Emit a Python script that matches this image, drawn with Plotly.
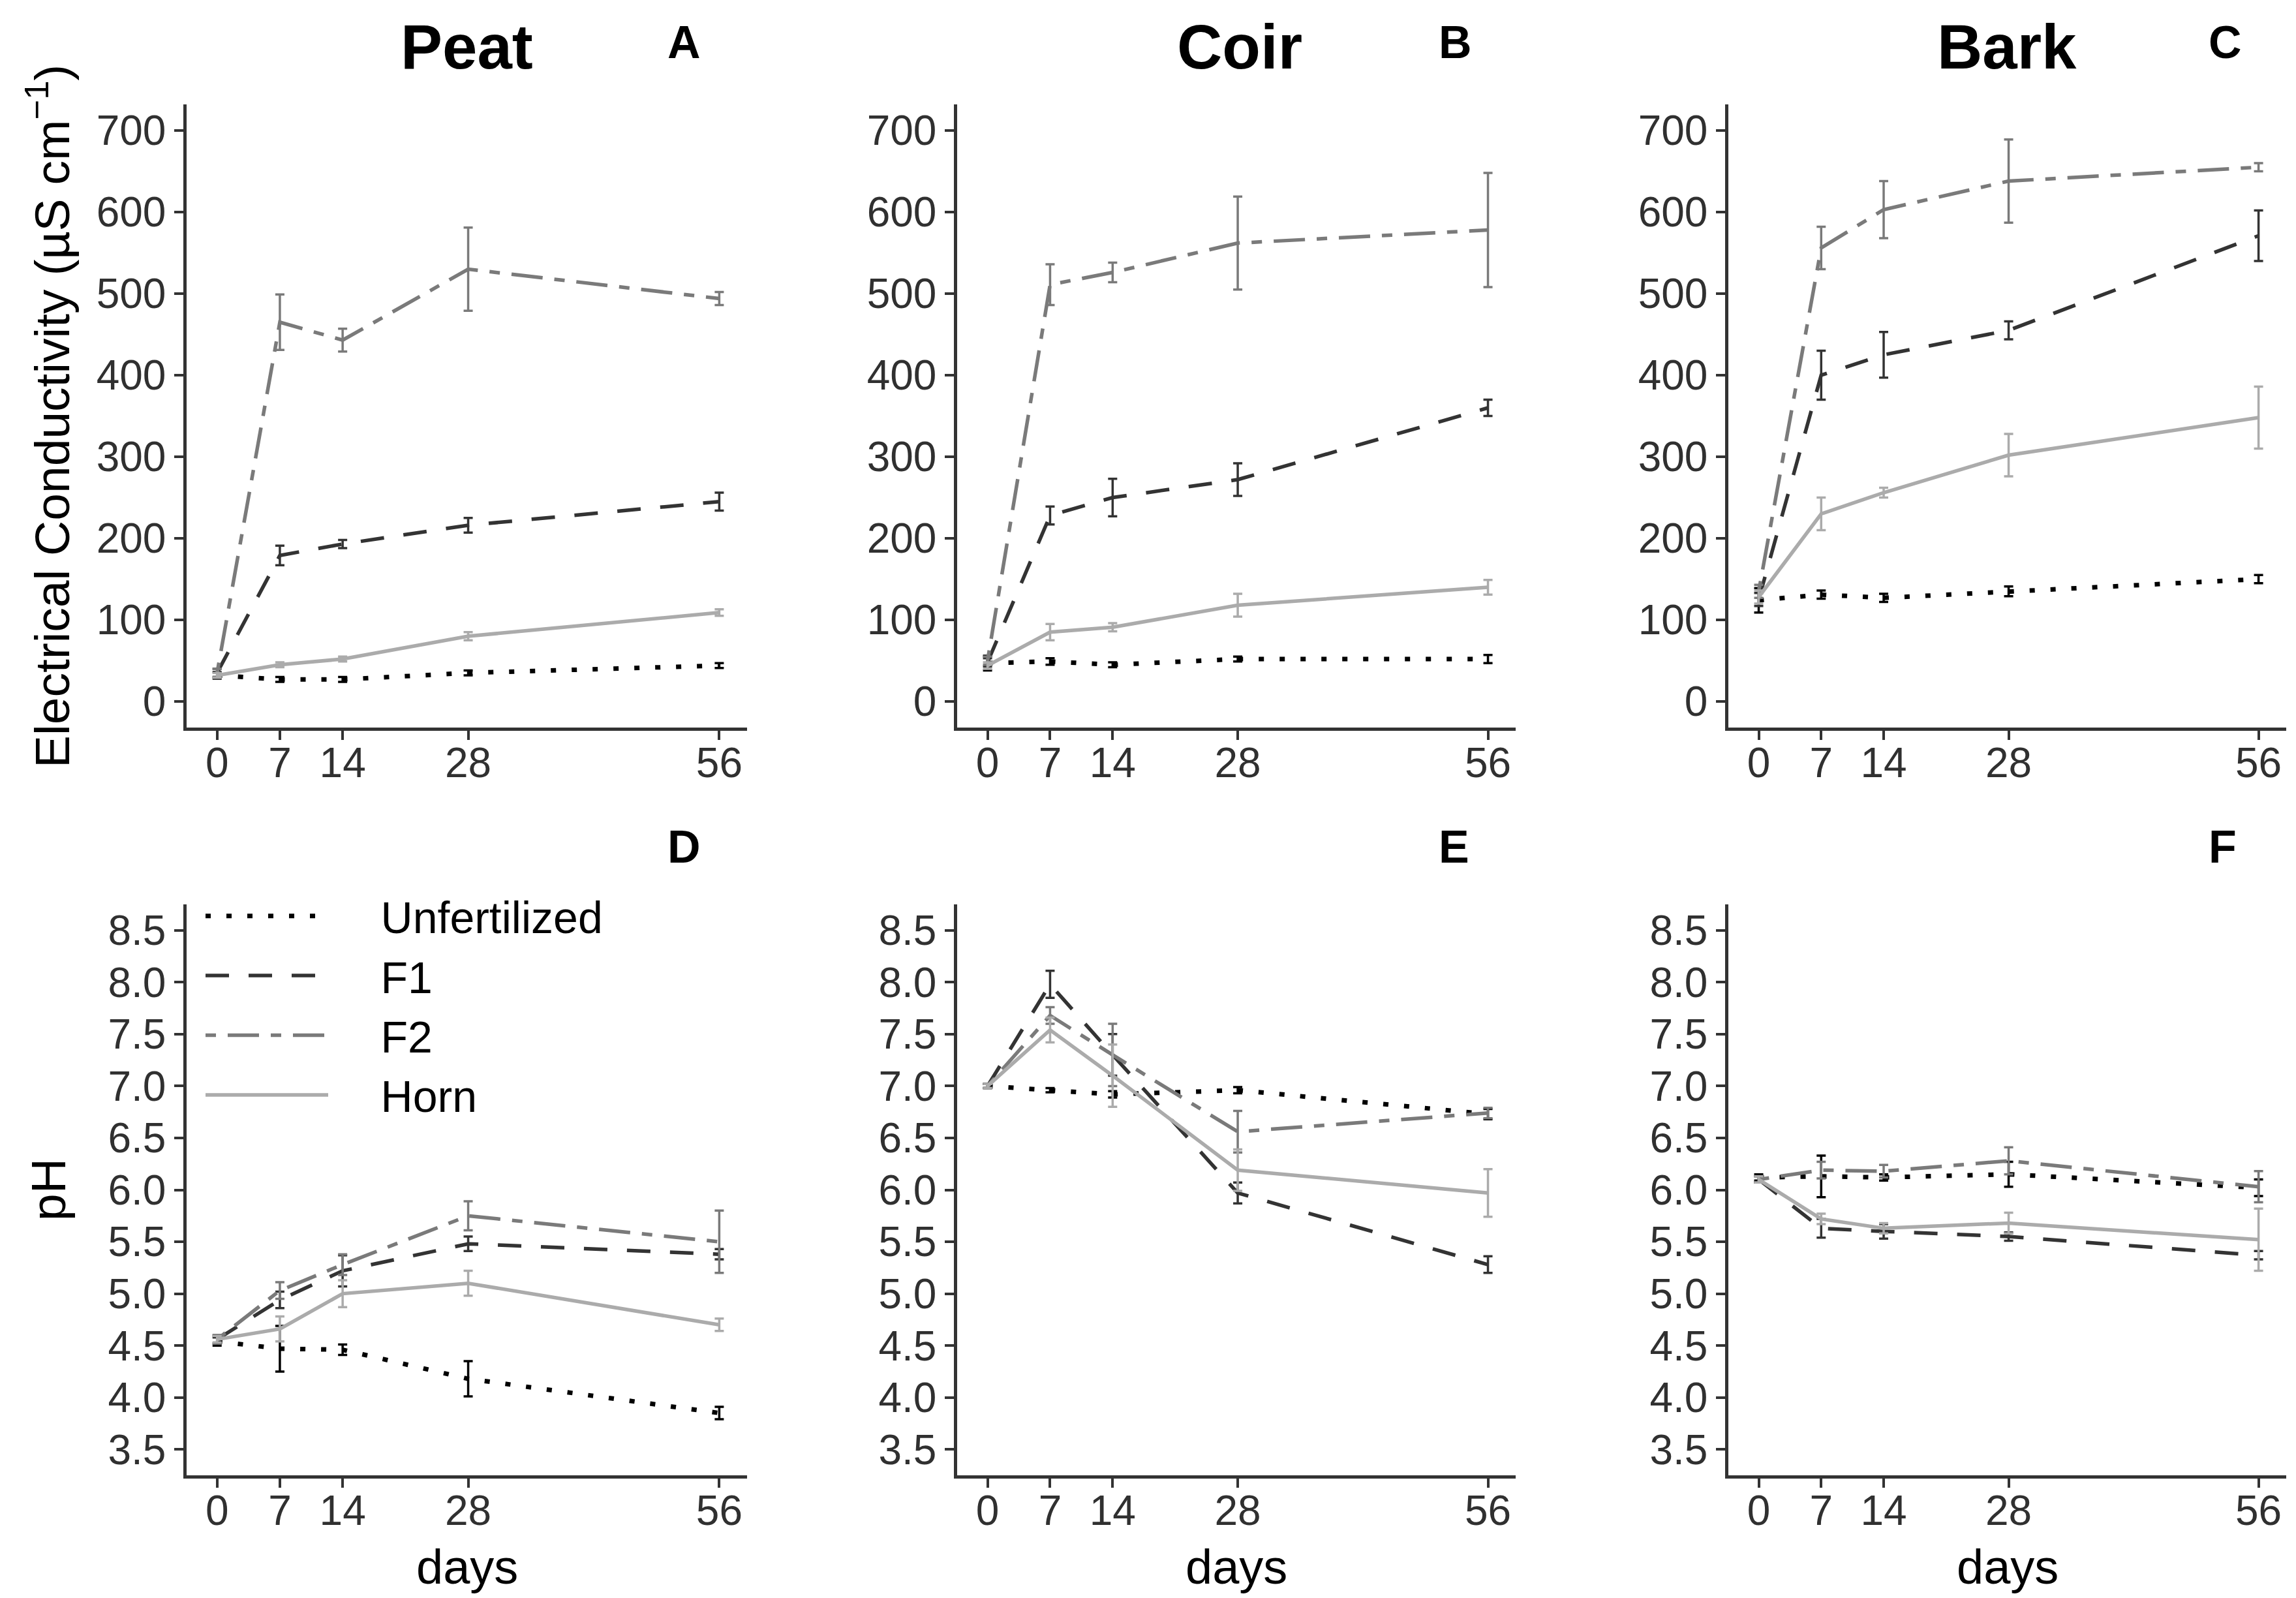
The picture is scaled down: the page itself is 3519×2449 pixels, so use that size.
import plotly.graph_objects as go

W, H = 3519, 2449

days = [0, 7, 14, 28, 56]
day_labels = ["0", "7", "14", "28", "56"]
treatments = ["Unfertilized", "F1", "F2", "Horn"]
substrates = ["Peat", "Coir", "Bark"]
ec_ticks = [0, 100, 200, 300, 400, 500, 600, 700]
ph_ticks = [3.5, 4.0, 4.5, 5.0, 5.5, 6.0, 6.5, 7.0, 7.5, 8.0, 8.5]

# Electrical conductivity (uS cm-1): mean and error
ec_peat_unf = [32, 27, 27, 35, 44]
ec_peat_unf_err = [4, 3, 3, 3, 3]
ec_peat_f1 = [35, 179, 193, 216, 245]
ec_peat_f1_err = [5, 12, 5, 9, 11]
ec_peat_f2 = [35, 465, 443, 530, 494]
ec_peat_f2_err = [5, 34, 14, 51, 8]
ec_peat_horn = [32, 45, 52, 80, 109]
ec_peat_horn_err = [3, 3, 3, 5, 4]

ec_coir_unf = [47, 49, 45, 52, 52]
ec_coir_unf_err = [9, 4, 3, 3, 5]
ec_coir_f1 = [48, 228, 250, 272, 360]
ec_coir_f1_err = [5, 11, 23, 20, 10]
ec_coir_f2 = [50, 511, 526, 562, 578]
ec_coir_f2_err = [5, 25, 12, 57, 70]
ec_coir_horn = [44, 85, 91, 118, 140]
ec_coir_horn_err = [4, 10, 5, 14, 9]

ec_bark_unf = [124, 131, 127, 135, 150]
ec_bark_unf_err = [15, 5, 5, 6, 5]
ec_bark_f1 = [125, 400, 425, 455, 571]
ec_bark_f1_err = [8, 30, 28, 11, 31]
ec_bark_f2 = [135, 556, 603, 638, 655]
ec_bark_f2_err = [8, 26, 35, 51, 5]
ec_bark_horn = [128, 230, 256, 302, 348]
ec_bark_horn_err = [8, 20, 6, 26, 38]

# pH: mean and error
ph_peat_unf = [4.54, 4.47, 4.46, 4.18, 3.85]
ph_peat_unf_err = [0.04, 0.22, 0.05, 0.17, 0.06]
ph_peat_f1 = [4.56, 4.94, 5.22, 5.48, 5.38]
ph_peat_f1_err = [0.04, 0.08, 0.15, 0.07, 0.05]
ph_peat_f2 = [4.56, 5.03, 5.28, 5.75, 5.5]
ph_peat_f2_err = [0.04, 0.08, 0.1, 0.14, 0.3]
ph_peat_horn = [4.56, 4.66, 5.0, 5.1, 4.7]
ph_peat_horn_err = [0.03, 0.12, 0.13, 0.12, 0.06]

ph_coir_unf = [7.0, 6.96, 6.92, 6.96, 6.73]
ph_coir_unf_err = [0.02, 0.02, 0.03, 0.03, 0.05]
ph_coir_f1 = [7.0, 7.98, 7.3, 5.97, 5.28]
ph_coir_f1_err = [0.02, 0.13, 0.2, 0.1, 0.08]
ph_coir_f2 = [7.0, 7.68, 7.3, 6.56, 6.74]
ph_coir_f2_err = [0.02, 0.08, 0.3, 0.2, 0.05]
ph_coir_horn = [7.0, 7.54, 7.1, 6.19, 5.97]
ph_coir_horn_err = [0.02, 0.12, 0.3, 0.2, 0.23]

ph_bark_unf = [6.12, 6.13, 6.12, 6.15, 6.02]
ph_bark_unf_err = [0.03, 0.2, 0.03, 0.12, 0.08]
ph_bark_f1 = [6.1, 5.63, 5.6, 5.55, 5.37]
ph_bark_f1_err = [0.03, 0.09, 0.07, 0.04, 0.04]
ph_bark_f2 = [6.1, 6.19, 6.18, 6.28, 6.03]
ph_bark_f2_err = [0.03, 0.08, 0.06, 0.13, 0.15]
ph_bark_horn = [6.1, 5.72, 5.63, 5.68, 5.52]
ph_bark_horn_err = [0.03, 0.05, 0.05, 0.1, 0.3]

ec_data = {
    "Peat": [(ec_peat_unf, ec_peat_unf_err), (ec_peat_f1, ec_peat_f1_err),
             (ec_peat_f2, ec_peat_f2_err), (ec_peat_horn, ec_peat_horn_err)],
    "Coir": [(ec_coir_unf, ec_coir_unf_err), (ec_coir_f1, ec_coir_f1_err),
             (ec_coir_f2, ec_coir_f2_err), (ec_coir_horn, ec_coir_horn_err)],
    "Bark": [(ec_bark_unf, ec_bark_unf_err), (ec_bark_f1, ec_bark_f1_err),
             (ec_bark_f2, ec_bark_f2_err), (ec_bark_horn, ec_bark_horn_err)],
}
ph_data = {
    "Peat": [(ph_peat_unf, ph_peat_unf_err), (ph_peat_f1, ph_peat_f1_err),
             (ph_peat_f2, ph_peat_f2_err), (ph_peat_horn, ph_peat_horn_err)],
    "Coir": [(ph_coir_unf, ph_coir_unf_err), (ph_coir_f1, ph_coir_f1_err),
             (ph_coir_f2, ph_coir_f2_err), (ph_coir_horn, ph_coir_horn_err)],
    "Bark": [(ph_bark_unf, ph_bark_unf_err), (ph_bark_f1, ph_bark_f1_err),
             (ph_bark_f2, ph_bark_f2_err), (ph_bark_horn, ph_bark_horn_err)],
}

styles = [
    dict(color="#000000", dash="8px,24px", width=7),
    dict(color="#333333", dash="36px,30px", width=5.5),
    dict(color="#7a7a7a", dash="16px,18px,48px,18px", width=5.5),
    dict(color="#ababab", dash="solid", width=5.5),
]

FONT = "Liberation Sans, Arial, sans-serif"
NB = "\u00a0" * 4

# pixel geometry (left/right, top/bottom of each plot area)
col_x = [(278, 1137), (1459, 2315), (2641, 3496)]
row_y = [(152, 1107), (1378, 2253)]


def px_x(p):
    return p / W


def px_y(p):
    return 1 - p / H


fig = go.Figure()

for r, data in enumerate([ec_data, ph_data]):
    for c, sub in enumerate(substrates):
        idx = r * 3 + c + 1
        xa = "x" if idx == 1 else f"x{idx}"
        ya = "y" if idx == 1 else f"y{idx}"
        for t, name in enumerate(treatments):
            vals, errs = data[sub][t]
            st = styles[t]
            fig.add_trace(go.Scatter(
                x=days, y=vals, mode="lines", name=NB + name,
                xaxis=xa, yaxis=ya,
                line=dict(color=st["color"], dash=st["dash"], width=st["width"]),
                error_y=dict(type="data", array=errs, visible=True,
                             color=st["color"], thickness=3.5, width=7),
                showlegend=(idx == 4),
                legendgroup=name,
            ))

axis_common = dict(
    showline=True, linecolor="#333333", linewidth=4.5, mirror=False,
    ticks="outside", ticklen=14, tickwidth=4, tickcolor="#333333",
    showgrid=False, zeroline=False,
    tickfont=dict(family=FONT, size=64, color="#303030"),
)

layout = dict(
    width=W, height=H,
    margin=dict(l=0, r=0, t=0, b=0),
    paper_bgcolor="white", plot_bgcolor="white",
    font=dict(family=FONT, color="#000000"),
    showlegend=True,
)

for r in range(2):
    for c in range(3):
        idx = r * 3 + c + 1
        xk = "xaxis" if idx == 1 else f"xaxis{idx}"
        yk = "yaxis" if idx == 1 else f"yaxis{idx}"
        xa_anchor = "y" if idx == 1 else f"y{idx}"
        ya_anchor = "x" if idx == 1 else f"x{idx}"
        x0, x1 = col_x[c]
        y0, y1 = row_y[r]
        layout[xk] = dict(axis_common, domain=[px_x(x0), px_x(x1)],
                          anchor=xa_anchor, range=[-3.4, 59.1],
                          tickvals=days, ticktext=day_labels,
                          ticklabelstandoff=-20)
        if r == 0:
            layout[yk] = dict(axis_common, domain=[px_y(y1), px_y(y0)],
                              anchor=ya_anchor, range=[-32, 732],
                              tickvals=ec_ticks,
                              ticktext=[str(v) for v in ec_ticks])
        else:
            layout[yk] = dict(axis_common, domain=[px_y(y1), px_y(y0)],
                              anchor=ya_anchor, range=[3.25, 8.75],
                              tickvals=ph_ticks,
                              ticktext=[f"{v:.1f}" for v in ph_ticks])

layout["legend"] = dict(
    x=px_x(302), y=px_y(1345), xanchor="left", yanchor="top",
    font=dict(family=FONT, size=68, color="#000000"),
    bgcolor="rgba(0,0,0,0)", itemwidth=188, tracegroupgap=0,
)

annotations = []
title_x = [707, 1892, 3068]
for c, sub in enumerate(substrates):
    annotations.append(dict(
        text=f"<b>{sub}</b>", x=px_x(title_x[c]), y=px_y(64),
        xref="paper", yref="paper", showarrow=False,
        xanchor="center", yanchor="middle",
        font=dict(family=FONT, size=96, color="#000000")))
letters = [("A", 1040, 57), ("B", 2222, 57), ("C", 3402, 57),
           ("D", 1040, 1290), ("E", 2220, 1290), ("F", 3398, 1290)]
for L, lx, ly in letters:
    annotations.append(dict(
        text=f"<b>{L}</b>", x=px_x(lx), y=px_y(ly),
        xref="paper", yref="paper", showarrow=False,
        xanchor="center", yanchor="middle",
        font=dict(family=FONT, size=70, color="#000000")))
annotations.append(dict(
    text="Electrical Conductivity (µS cm<sup>−1</sup>)",
    x=px_x(66), y=px_y(630), xref="paper", yref="paper", showarrow=False,
    textangle=-90, xanchor="center", yanchor="middle",
    font=dict(family=FONT, size=75, color="#000000")))
annotations.append(dict(
    text="pH", x=px_x(66), y=px_y(1815), xref="paper", yref="paper",
    showarrow=False, textangle=-90, xanchor="center", yanchor="middle",
    font=dict(family=FONT, size=75, color="#000000")))
for c in range(3):
    cx = (col_x[c][0] + col_x[c][1]) / 2
    annotations.append(dict(
        text="days", x=px_x(cx), y=px_y(2393), xref="paper", yref="paper",
        showarrow=False, xanchor="center", yanchor="middle",
        font=dict(family=FONT, size=74, color="#000000")))
layout["annotations"] = annotations

fig.update_layout(**layout)
fig.write_html("out.html")
